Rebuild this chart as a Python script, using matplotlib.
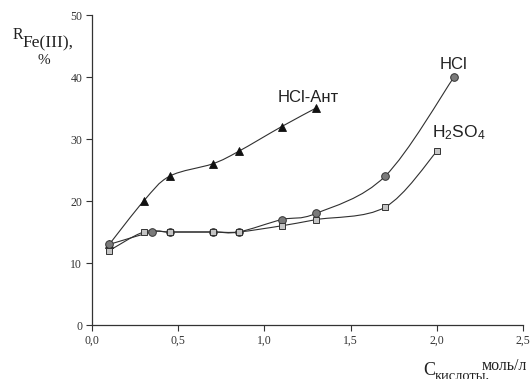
import numpy as np
import matplotlib
matplotlib.use("Agg")
import matplotlib.pyplot as plt
from matplotlib.path import Path
from matplotlib.patches import PathPatch
from matplotlib.ticker import FuncFormatter

# data
x_ant = [0.1, 0.3, 0.45, 0.7, 0.85, 1.1, 1.3]
y_ant = [13, 20, 24, 26, 28, 32, 35]

x_hcl = [0.1, 0.35, 0.45, 0.7, 0.85, 1.1, 1.3, 1.7, 2.1]
y_hcl = [13, 15, 15, 15, 15, 17, 18, 24, 40]

x_h2so4 = [0.1, 0.3, 0.45, 0.7, 0.85, 1.1, 1.3, 1.7, 2.0]
y_h2so4 = [12, 15, 15, 15, 15, 16, 17, 19, 28]

x_ticks = [0.0, 0.5, 1.0, 1.5, 2.0, 2.5]
y_ticks = [0, 10, 20, 30, 40, 50]

serif = "Liberation Serif"
sans = "Liberation Sans"
plt.rcParams["mathtext.fontset"] = "custom"
plt.rcParams["mathtext.rm"] = sans
plt.rcParams["mathtext.it"] = sans

W, H = 531, 379


def smooth_path(xs, ys):
    # Catmull-Rom -> cubic bezier (like Excel's smoothed line)
    p = np.column_stack([xs, ys]).astype(float)
    n = len(p)
    verts = [p[0]]
    codes = [Path.MOVETO]
    for i in range(n - 1):
        p0 = p[i - 1] if i > 0 else p[i]
        p1 = p[i]
        p2 = p[i + 1]
        p3 = p[i + 2] if i + 2 < n else p[i + 1]
        c1 = p1 + (p2 - p0) / 6.0
        c2 = p2 - (p3 - p1) / 6.0
        verts += [c1, c2, p2]
        codes += [Path.CURVE4] * 3
    return Path(verts, codes)


def ftext(px, py, s, **kw):
    # place text by pixel position (y from top)
    fig.text(px / W, 1 - py / H, s, va="baseline", color="#222222", **kw)


fig = plt.figure(figsize=(W / 100, H / 100), dpi=100)
ax = fig.add_axes([92 / W, 1 - 325 / H, 431 / W, 310 / H])
ax.set_xlim(0, 2.5)
ax.set_ylim(0, 50)

for xs, ys in [(x_ant, y_ant), (x_hcl, y_hcl), (x_h2so4, y_h2so4)]:
    ax.add_patch(PathPatch(smooth_path(xs, ys), facecolor="none",
                           edgecolor="#303030", lw=0.8, zorder=2))

ax.plot(x_ant, y_ant, ls="none", marker="^", ms=5.8, mfc="#111111",
        mec="#111111", mew=0.6, zorder=3)
ax.plot(x_hcl, y_hcl, ls="none", marker="o", ms=5.5, mfc="#7a7a7a",
        mec="#333333", mew=0.7, zorder=3)
ax.plot(x_h2so4, y_h2so4, ls="none", marker="s", ms=4.8, mfc="#c4c4c4",
        mec="#333333", mew=0.7, zorder=3)

for s in ["top", "right"]:
    ax.spines[s].set_visible(False)
for s in ["left", "bottom"]:
    ax.spines[s].set_color("#333333")
    ax.spines[s].set_linewidth(0.9)

ax.set_xticks(x_ticks)
ax.set_yticks(y_ticks)
ax.xaxis.set_major_formatter(FuncFormatter(lambda v, _: f"{v:.1f}".replace(".", ",")))
ax.tick_params(length=4, width=0.8, color="#333333", labelsize=8.5,
               labelcolor="#333333", pad=3)
for lab in ax.get_xticklabels() + ax.get_yticklabels():
    lab.set_fontfamily(serif)

# series labels
ftext(278, 102, "HCl-Ант", fontsize=12, family=sans)
ftext(440, 69, "HCl", fontsize=12, family=sans)
ftext(432, 137, "H$_2$SO$_4$", fontsize=12.5, family=sans)

# y axis label
ftext(13, 39, "R", fontsize=11.5, family=serif)
ftext(22, 47, "Fe(III),", fontsize=12.5, family=serif)
ftext(44, 64, "%", fontsize=11, family=serif, ha="center")

# x axis label (subscript runs off the bottom edge, as in the original)
ftext(435, 375, "C", fontsize=13, family=serif, ha="right")
ftext(490, 379, "кислоты,", fontsize=10.5, family=serif, ha="right")
ftext(527, 370, "моль/л", fontsize=11.5, family=serif, ha="right")

fig.savefig("out.png", dpi=100)
